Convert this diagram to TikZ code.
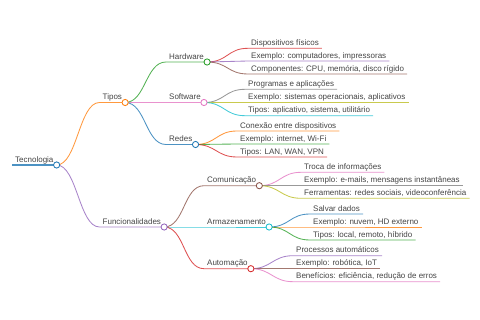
\documentclass[tikz,border=0pt]{standalone}
\usepackage{fontspec}
\setmainfont{Liberation Sans}
\usepackage{xcolor}
\usepackage{tikz}
\usetikzlibrary{positioning}

\definecolor{mblue}{HTML}{1F77B4}
\definecolor{morange}{HTML}{FF7F0E}
\definecolor{mgreen}{HTML}{2CA02C}
\definecolor{mred}{HTML}{D62728}
\definecolor{mpurple}{HTML}{9467BD}
\definecolor{mbrown}{HTML}{8C564B}
\definecolor{mpink}{HTML}{E377C2}
\definecolor{mgray}{HTML}{7F7F7F}
\definecolor{molive}{HTML}{BCBD22}
\definecolor{mcyan}{HTML}{17BECF}
\definecolor{mtext}{HTML}{444444}

\begin{document}
\begin{tikzpicture}[
    x=1pt, y=-1pt,
    font=\fontsize{8}{9.6}\selectfont, text=mtext,
    lbl/.style={anchor=south west, inner xsep=3pt, inner ysep=0.8pt, text height=6pt, text depth=1.8pt},
    link/.style={line width=0.85pt, draw opacity=0.8},
    dot/.style={circle, draw, fill=white, line width=0.85pt, inner sep=0pt, minimum size=6.2pt}
]
\useasboundingbox (0,0) rectangle (480,320);

% labels
\node[lbl] (root) at (12,165) {Tecnologia};
\node[lbl] (tipos) at (99.5,102.5) {Tipos};
\node[lbl] (func) at (99.5,227) {Funcionalidades};
\node[lbl] (hw) at (166,62) {Hardware};
\node[lbl] (sw) at (166,102.5) {Software};
\node[lbl] (redes) at (166,144.5) {Redes};
\node[lbl] (hw1) at (248,48.3) {Dispositivos físicos};
\node[lbl] (hw2) at (248,61) {Exemplo: computadores, impressoras};
\node[lbl] (hw3) at (248,74) {Componentes: CPU, memória, disco rígido};
\node[lbl] (sw1) at (245,89.3) {Programas e aplicações};
\node[lbl] (sw2) at (245,102.5) {Exemplo: sistemas operacionais, aplicativos};
\node[lbl] (sw3) at (245,115.7) {Tipos: aplicativo, sistema, utilitário};
\node[lbl] (re1) at (237,131) {Conexão entre dispositivos};
\node[lbl] (re2) at (237,144) {Exemplo: internet, Wi-Fi};
\node[lbl] (re3) at (237,157) {Tipos: LAN, WAN, VPN};
\node[lbl] (com) at (204,185.7) {Comunicação};
\node[lbl] (arm) at (204,227) {Armazenamento};
\node[lbl] (aut) at (204,268.7) {Automação};
\node[lbl] (co1) at (301,172.3) {Troca de informações};
\node[lbl] (co2) at (301,185.7) {Exemplo: e-mails, mensagens instantâneas};
\node[lbl] (co3) at (301,198.3) {Ferramentas: redes sociais, videoconferência};
\node[lbl] (ar1) at (310,214) {Salvar dados};
\node[lbl] (ar2) at (310,227) {Exemplo: nuvem, HD externo};
\node[lbl] (ar3) at (310,240) {Tipos: local, remoto, híbrido};
\node[lbl] (au1) at (293,255.7) {Processos automáticos};
\node[lbl] (au2) at (293,268.7) {Exemplo: robótica, IoT};
\node[lbl] (au3) at (293,281.7) {Benefícios: eficiência, redução de erros};

% branches with underlines
\draw[link, mblue, line width=1.1pt] (root.south west) -- (root.south east);
\draw[link, morange] (root.south east) .. controls +(20.5,0) and +(-20.5,0) .. (tipos.south west) -- (tipos.south east);
\draw[link, mpurple] (root.south east) .. controls +(20.5,0) and +(-20.5,0) .. (func.south west) -- (func.south east);
\draw[link, mgreen] (tipos.south east) .. controls +(20.5,0) and +(-20.5,0) .. (hw.south west) -- (hw.south east);
\draw[link, mpink] (tipos.south east) .. controls +(20.5,0) and +(-20.5,0) .. (sw.south west) -- (sw.south east);
\draw[link, mblue] (tipos.south east) .. controls +(20.5,0) and +(-20.5,0) .. (redes.south west) -- (redes.south east);
\draw[link, mred] (hw.south east) .. controls +(20.5,0) and +(-20.5,0) .. (hw1.south west) -- (hw1.south east);
\draw[link, mpurple] (hw.south east) .. controls +(20.5,0) and +(-20.5,0) .. (hw2.south west) -- (hw2.south east);
\draw[link, mbrown] (hw.south east) .. controls +(20.5,0) and +(-20.5,0) .. (hw3.south west) -- (hw3.south east);
\draw[link, mgray] (sw.south east) .. controls +(20.5,0) and +(-20.5,0) .. (sw1.south west) -- (sw1.south east);
\draw[link, molive] (sw.south east) .. controls +(20.5,0) and +(-20.5,0) .. (sw2.south west) -- (sw2.south east);
\draw[link, mcyan] (sw.south east) .. controls +(20.5,0) and +(-20.5,0) .. (sw3.south west) -- (sw3.south east);
\draw[link, morange] (redes.south east) .. controls +(20.5,0) and +(-20.5,0) .. (re1.south west) -- (re1.south east);
\draw[link, mgreen] (redes.south east) .. controls +(20.5,0) and +(-20.5,0) .. (re2.south west) -- (re2.south east);
\draw[link, mred] (redes.south east) .. controls +(20.5,0) and +(-20.5,0) .. (re3.south west) -- (re3.south east);
\draw[link, mbrown] (func.south east) .. controls +(20.5,0) and +(-20.5,0) .. (com.south west) -- (com.south east);
\draw[link, mcyan] (func.south east) .. controls +(20.5,0) and +(-20.5,0) .. (arm.south west) -- (arm.south east);
\draw[link, mred] (func.south east) .. controls +(20.5,0) and +(-20.5,0) .. (aut.south west) -- (aut.south east);
\draw[link, mpink] (com.south east) .. controls +(20.5,0) and +(-20.5,0) .. (co1.south west) -- (co1.south east);
\draw[link, mgray] (com.south east) .. controls +(20.5,0) and +(-20.5,0) .. (co2.south west) -- (co2.south east);
\draw[link, molive] (com.south east) .. controls +(20.5,0) and +(-20.5,0) .. (co3.south west) -- (co3.south east);
\draw[link, mblue] (arm.south east) .. controls +(20.5,0) and +(-20.5,0) .. (ar1.south west) -- (ar1.south east);
\draw[link, morange] (arm.south east) .. controls +(20.5,0) and +(-20.5,0) .. (ar2.south west) -- (ar2.south east);
\draw[link, mgreen] (arm.south east) .. controls +(20.5,0) and +(-20.5,0) .. (ar3.south west) -- (ar3.south east);
\draw[link, mpurple] (aut.south east) .. controls +(20.5,0) and +(-20.5,0) .. (au1.south west) -- (au1.south east);
\draw[link, mbrown] (aut.south east) .. controls +(20.5,0) and +(-20.5,0) .. (au2.south west) -- (au2.south east);
\draw[link, mpink] (aut.south east) .. controls +(20.5,0) and +(-20.5,0) .. (au3.south west) -- (au3.south east);

% fold circles
\node[dot, draw=mblue] (rootd) at (root.south east) {};
\node[dot, draw=morange] (tiposd) at (tipos.south east) {};
\node[dot, draw=mpurple] (funcd) at (func.south east) {};
\node[dot, draw=mgreen] (hwd) at (hw.south east) {};
\node[dot, draw=mpink] (swd) at (sw.south east) {};
\node[dot, draw=mblue] (redesd) at (redes.south east) {};
\node[dot, draw=mbrown] (comd) at (com.south east) {};
\node[dot, draw=mcyan] (armd) at (arm.south east) {};
\node[dot, draw=mred] (autd) at (aut.south east) {};
\end{tikzpicture}
\end{document}
